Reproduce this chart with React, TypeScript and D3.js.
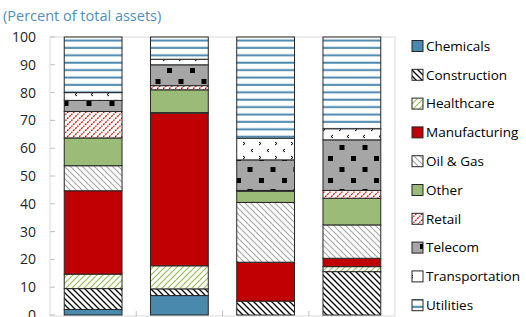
import React from "react";
import * as d3 from "d3";

const groups = ["A", "B", "C", "D"];
const seriesNames = [
  "Chemicals", "Construction", "Healthcare", "Manufacturing", "Oil & Gas",
  "Other", "Retail", "Telecom", "Transportation", "Utilities",
];
// segment heights per bar (percent of total assets)
const chemicals = [2, 7, 0, 0];
const construction = [7.5, 2.4, 5, 15.6];
const healthcare = [5.2, 8.3, 0, 1.8];
const manufacturing = [30, 54.9, 14, 3];
const oilGas = [9, 0.2, 21.5, 12];
const other = [10, 8.2, 4, 9.6];
const retail = [9.5, 1.5, 0.3, 2.8];
const telecom = [4, 7.5, 11, 18.2];
const transportation = [2.8, 2, 7.8, 4];
const utilities = [20, 8, 36.4, 33];
const yTicks = [0, 10, 20, 30, 40, 50, 60, 70, 80, 90, 100];

const seriesValues = [chemicals, construction, healthcare, manufacturing, oilGas, other, retail, telecom, transportation, utilities];
const fills = ["#4a89ae", "url(#p-constr)", "url(#p-health)", "#c00000", "url(#p-oil)", "#9bbb78", "url(#p-retail)", "url(#p-tel)", "url(#p-trans)", "url(#p-util)"];

const W = 526, H = 317;
const plot = { left: 50, right: 395, top: 37, bottom: 315 };

export default function App() {
  const table = groups.map((g, i) => {
    const row: any = { group: g };
    seriesNames.forEach((s, j) => (row[s] = seriesValues[j][i]));
    return row;
  });
  const stacked = d3.stack<any>().keys(seriesNames)(table);

  const x = d3.scaleBand().domain(groups).range([plot.left, plot.right]).paddingInner(0.33).paddingOuter(0.165);
  const y = d3.scaleLinear().domain([0, 100]).range([plot.bottom, plot.top]);
  const step = x.step();

  const font = "'Open Sans', 'Noto Sans', sans-serif";

  return (
    <svg width={W} height={H} style={{ position: "absolute", left: 0, top: 0 }} fontFamily={font}>
      <defs>
        <pattern id="p-constr" patternUnits="userSpaceOnUse" width="6" height="6">
          <rect width="6" height="6" fill="#fff" />
          <path d="M-1,-1 L7,7 M-1,5 L1,7 M5,-1 L7,1" stroke="#000" strokeWidth="1.3" />
        </pattern>
        <pattern id="p-health" patternUnits="userSpaceOnUse" width="6" height="6">
          <rect width="6" height="6" fill="#fff" />
          <path d="M-1,7 L7,-1 M-1,1 L1,-1 M5,7 L7,5" stroke="#9bbb59" strokeWidth="1.2" />
        </pattern>
        <pattern id="p-oil" patternUnits="userSpaceOnUse" width="6" height="6">
          <rect width="6" height="6" fill="#fff" />
          <path d="M-1,-1 L7,7 M-1,5 L1,7 M5,-1 L7,1" stroke="#a6a6a6" strokeWidth="1.1" />
        </pattern>
        <pattern id="p-retail" patternUnits="userSpaceOnUse" width="6" height="6">
          <rect width="6" height="6" fill="#fff" />
          <path d="M-1,7 L7,-1 M-1,1 L1,-1 M5,7 L7,5" stroke="#e00000" strokeWidth="1.3" strokeDasharray="2,1" />
        </pattern>
        <pattern id="p-tel" patternUnits="userSpaceOnUse" width="23" height="22">
          <rect width="23" height="22" fill="#a6a6a6" />
          <rect x="6" y="2" width="5" height="5" fill="#000" />
          <rect x="17.5" y="13" width="5" height="5" fill="#000" />
        </pattern>
        <pattern id="p-trans" patternUnits="userSpaceOnUse" width="16" height="14">
          <rect width="16" height="14" fill="#fff" />
          <path d="M3,2 L5,3.5 L3,5" stroke="#000" strokeWidth="1" fill="none" />
          <path d="M13,9 L11,10.5 L13,12" stroke="#000" strokeWidth="1" fill="none" />
        </pattern>
        <pattern id="p-util" patternUnits="userSpaceOnUse" width="8" height="7.4">
          <rect width="8" height="7.4" fill="#fff" />
          <rect y="2.5" width="8" height="2" fill="#4a89ae" />
        </pattern>
      </defs>

      <text x={3} y={21} fontSize={14.5} fill="#4f8fbf">(Percent of total assets)</text>

      {/* plot frame */}
      <rect x={plot.left} y={plot.top} width={plot.right - plot.left} height={plot.bottom + 1 - plot.top} fill="none" stroke="#d9d9d9" strokeWidth={1} />
      {yTicks.map(t => (
        <g key={t}>
          <line x1={plot.left} x2={plot.left + 5} y1={y(t)} y2={y(t)} stroke="#bfbfbf" />
          <text x={36} y={y(t)} dy="0.35em" textAnchor="end" fontSize={14} fill="#262626">{t}</text>
        </g>
      ))}
      {groups.slice(1).map(g => (
        <line key={g} x1={x(g)! - (step - x.bandwidth()) / 2} x2={x(g)! - (step - x.bandwidth()) / 2} y1={plot.bottom + 1} y2={plot.bottom - 4} stroke="#bfbfbf" />
      ))}

      {stacked.map((layer, j) => (
        <g key={layer.key}>
          {layer.map((d, i) =>
            d[1] - d[0] > 0 ? (
              <rect key={i} x={x(d.data.group)} y={y(d[1])} width={x.bandwidth()} height={y(d[0]) - y(d[1])}
                fill={fills[j]} stroke="#262626" strokeWidth={1} />
            ) : null
          )}
        </g>
      ))}

      {seriesNames.map((s, i) => {
        const ly = 46 + i * 28.8;
        return (
          <g key={s}>
            <rect x={412} y={ly - 5.5} width={11} height={11} fill={fills[i]} stroke="#262626" strokeWidth={1} />
            <text x={426} y={ly} dy="0.35em" fontSize={13.5} fill="#000">{s}</text>
          </g>
        );
      })}
    </svg>
  );
}
